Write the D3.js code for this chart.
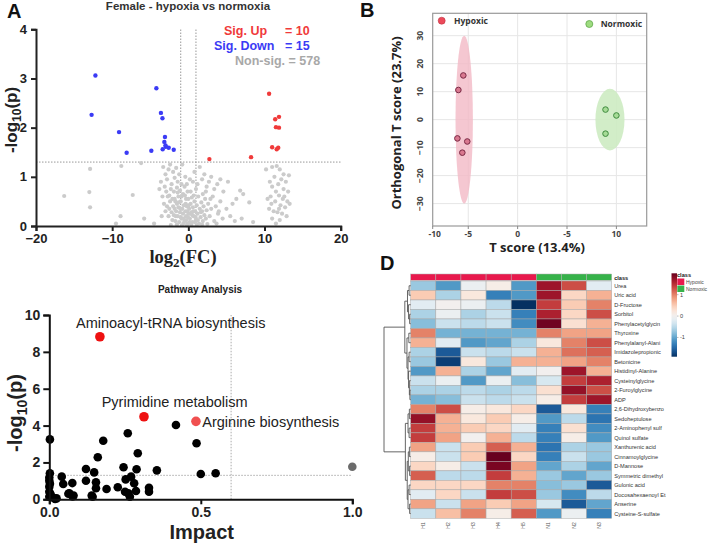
<!DOCTYPE html>
<html><head><meta charset="utf-8">
<script src="https://cdn.jsdelivr.net/npm/d3@7"></script>
<style>body{margin:0;background:#fff}svg{display:block}</style>
</head><body>
<svg id="c" width="708" height="553"></svg>
<script>
// ---------- Panel A: volcano ----------
const volcanoUp = [[2.76,1.36],[8.23,1.40],[10.6,2.69],[11.9,2.22],[11.4,2.17],[11.5,2.01],[11.9,2.0],[11.0,1.60],[11.8,1.59],[11.6,1.56]];
const volcanoDown = [[-12.2,3.06],[-12.7,2.26],[-9.1,1.91],[-8.1,1.49],[-4.86,1.53],[-4.2,2.80],[-3.6,2.30],[-3.4,2.19],[-3.07,1.81],[-3.15,1.71],[-3.37,1.56],[-2.97,1.61],[-2.58,1.59],[-1.92,1.55],[-3.0,1.64]];
const volcanoNon = [[-16.3,0.61],[-12.9,1.16],[-13.0,0.69],[-12.9,0.38],[-8.8,1.22],[-8.9,0.2],[-7.3,0.63],[-9.5,0.05],[-6.2,1.28],[-4.5,0.05],[-5.8,0.15],
[-3.3,1.2],[-3.0,1.05],[-2.8,0.95],[-2.6,1.15],[-2.4,1.25],[-2.2,0.85],[-2.0,1.1],[-1.8,0.98],[-1.6,1.18],[-1.4,0.9],[-1.2,1.05],[-3.6,0.9],[-3.8,0.75],[-3.4,0.6],[-3.1,0.8],[-2.9,0.7],[-2.5,0.62],[-2.3,0.75],[-2.1,0.55],[-1.9,0.7],[-1.7,0.5],[-1.5,0.78],[-1.3,0.6],[-1.1,0.72],[-0.9,0.85],[-0.7,0.65],[-0.5,0.8],[-0.3,0.55],[-0.1,0.7],
[-0.8,1.25],[-0.4,1.0],[0.2,0.95],[0.6,0.9],[0.8,1.1],[1.2,0.85],[1.5,1.2],[1.8,0.95],[2.1,1.05],[2.4,0.8],[2.7,0.9],[3.0,1.0],[3.4,0.75],[3.8,0.85],[4.2,0.95],[4.6,0.7],[5.2,0.9],
[-3.2,0.45],[-3.0,0.3],[-2.8,0.4],[-2.6,0.2],[-2.5,0.35],[-2.4,0.5],[-2.2,0.28],[-2.1,0.12],[-2.0,0.4],[-1.9,0.22],[-1.8,0.35],[-1.7,0.1],[-1.6,0.3],[-1.5,0.45],[-1.4,0.2],[-1.3,0.38],[-1.2,0.08],[-1.1,0.28],[-1.0,0.5],[-0.9,0.15],[-0.8,0.35],[-0.7,0.25],[-0.6,0.42],[-0.5,0.1],[-0.4,0.3],[-0.3,0.2],[-0.2,0.4],[-0.1,0.05],[0,0.25],[0.1,0.35],[0.2,0.15],[0.3,0.45],[0.4,0.28],[0.5,0.08],[0.6,0.38],[0.7,0.2],[0.8,0.5],[0.9,0.3],[1.0,0.12],[1.1,0.42],[1.2,0.25],[1.3,0.6],[1.4,0.05],[1.5,0.35],[1.6,0.18],[1.7,0.48],[1.8,0.3],[1.9,0.1],[2.0,0.4],[2.1,0.22],[2.2,0.55],[2.3,0.15],[2.4,0.32],[2.6,0.45],[2.8,0.2],[3.0,0.35],[3.2,0.6],[3.4,0.1],[3.6,0.4],[3.9,0.25],[4.2,0.5],[4.5,0.15],
[-2.3,0.02],[-1.5,0.03],[-0.8,0.02],[-0.2,0.01],[0.4,0.02],[1.1,0.02],[1.8,0.03],[2.5,0.04],[-1.0,0.18],[-0.3,0.12],[0.15,0.08],[0.55,0.22],[0.95,0.18],[-0.6,0.06],[-1.8,0.55],[-2.7,0.6],[0.0,0.55],[-0.9,0.6],[0.7,0.62],[1.9,0.65],[-1.4,0.68],[0.3,0.7],[1.0,0.75],[-0.2,0.85],[2.3,0.7],[2.9,0.55],[-3.5,0.2],[3.7,0.05],[4.0,0.3],[5.0,0.35],
[-0.65,0.15],[-0.35,0.45],[0.05,0.42],[0.35,0.05],[0.65,0.3],[-1.25,0.48],[-0.05,0.18],[0.85,0.08],[-0.45,0.62],[0.45,0.58],[-1.05,0.35],[1.25,0.12],[-1.65,0.2],[1.65,0.28],[-0.15,0.3],[0.25,0.25],
[5.8,0.45],[6.3,0.55],[6.1,0.1],[7.0,0.15],[7.2,0.65],[8.0,0.48],[8.5,0.08],[6.8,0.72],[5.5,0.2],
[10.2,1.15],[11.0,1.2],[11.6,1.22],[12.0,1.15],[12.5,1.05],[13.2,1.03],[11.3,1.0],[12.2,0.95],[12.8,0.9],[11.8,0.85],[11.0,0.8],[12.5,0.75],[13.1,0.7],[11.5,0.7],[10.8,0.6],[11.9,0.62],[12.4,0.55],[13.0,0.5],[10.9,0.45],[11.4,0.5],[12.1,0.42],[12.7,0.38],[13.3,0.45],[10.6,0.35],[11.2,0.3],[11.7,0.28],[12.3,0.25],[12.9,0.2],[11.0,0.15],[12.0,0.12],[11.5,0.05],[10.4,0.55],[11.9,0.35],[12.6,0.6],[10.7,0.9]];
const volcanoXTicks = [-20,-10,0,10,20];
const volcanoYTicks = [0,1,2,3,4];

// ---------- Panel B: OPLS-DA scores ----------
const hypoxicScores = [[-5.5,15.8],[-6.0,10.6],[-6.1,-6.7],[-5.1,-7.8],[-5.6,-11.8]];
const normoxicScores = [[8.9,3.6],[10.0,1.5],[8.9,-5.0]];
const hypoxicEllipse = {cx:-5.41, cy:0, rx:0.88, ry:30};
const normoxicEllipse = {cx:9.35, cy:0, rx:1.47, ry:11};
const scoreXTicks = [-10,-5,0,5,10];
const scoreXTickLabels = ["-10","-5","0","-5","10"];
const scoreYTicks = [30,20,10,0,-10,-20,-30];

// ---------- Panel C: pathway analysis ----------
const pathwayRed = [[0.167,8.82],[0.3125,4.48],[0.484,4.23]];
const pathwayRedLabels = ["Aminoacyl-tRNA biosynthesis","Pyrimidine metabolism","Arginine biosynthesis"];
const pathwayGrey = [[1.0,1.77]];
const pathwayBlack = [[0.002,3.25],[0.178,3.18],[0.16,2.28],[0.259,3.58],[0.292,2.5],[0.418,4.03],[0.486,3.04],[0.121,1.64],[0.148,1.46],[0.245,1.74],[0.288,1.63],[0.355,1.57],[0.5,1.37],[0.549,1.41],
[0.002,1.41],[0,1.18],[0,1.01],[0,0.68],[0,0.41],[0,0.14],[0.002,0.85],[0.004,0.28],[0.019,0.02],[0.041,1.23],[0.046,0.83],[0.076,0.88],[0.066,0.33],[0.077,0.16],[0.121,1.01],[0.154,0.92],[0.154,0.6],[0.143,0.14],[0.189,0.56],[0.226,0.65],[0.252,1.08],[0.27,1.23],[0.25,0.41],[0.266,0.14],[0.28,0.87],[0.286,0.45],[0.329,0.63],[0.329,0.41],[0.063,0.3],[0.08,0.2],[0.14,0.2],[0.024,0.05],[0.012,0.1],[0.261,0.32]];
const pathwayXTicks = [0,0.5,1.0];
const pathwayYTicks = [0,2,4,6,8,10];

// ---------- Panel D: heatmap ----------
const samples = ["H1","H2","H3","H4","H5","N1","N2","N3"];
const sampleClass = ["Hypoxic","Hypoxic","Hypoxic","Hypoxic","Hypoxic","Normoxic","Normoxic","Normoxic"];
const metabolites = ["Urea","Uric acid","D-Fructose","Sorbitol","Phenylacetylglycin","Thyroxine","Phenylalanyl-Alani","Imidazolepropionic","Betonicine","Histidinyl-Alanine","Cysteinylglycine","2-Furoylglycine","ADP","2,6-Dihydroxybenzo","Sedoheptulose","2-Aminophenyl sulf","Quinol sulfate","Xanthurenic acid","Cinnamoylglycine","D-Mannose","Symmetric dimethyl","Gulonic acid","Docosahexaenoyl Et","Anserine","Cysteine-S-sulfate"];
const heatValues = [
[-0.7,-1.1,-0.1,0.1,-1.1,1.7,1.3,-0.2],
[0.5,-0.6,0.2,-1.3,-1.1,1.7,0.4,0.7],
[-0.2,0,-0.1,-0.5,-1.9,1.4,0.5,1.0],
[-0.6,-0.1,-0.6,-0.4,-1.3,1.6,0.4,1.3],
[-0.8,-0.4,-0.5,-0.4,-1.2,1.95,0.3,0.7],
[1.0,-0.9,-0.9,-0.9,-0.9,1.0,0.8,0.8],
[0.7,-0.2,-1.1,-1.0,-0.6,0.2,1.0,1.3],
[-0.6,-1.6,-0.4,-0.5,-0.4,0.7,1.1,1.2],
[-0.7,-1.8,0.2,-0.7,0.7,0.7,0.8,1.0],
[-1.1,0.7,-0.6,-1.0,-0.2,0,1.7,0.7],
[-0.4,-0.1,-1.1,-0.1,-0.8,-0.3,1.4,1.6],
[-0.6,-0.6,-0.5,-0.6,-0.5,0.3,1.75,1.3],
[-0.9,-0.8,-0.4,-0.5,-0.4,0.1,1.4,1.7],
[1.0,1.3,0.1,0.2,0.4,-1.6,0.2,-1.3],
[1.75,0.7,0.2,0.5,0.1,-1.1,-0.5,-1.4],
[1.4,0.7,0.5,0.4,-0.2,-1.3,0.3,-1.2],
[1.4,0.8,0,0.7,-0.5,-1.3,0.1,-1.1],
[0.8,-0.4,0.5,1.2,0.7,-1.4,-0.6,-0.7],
[0.1,-0.4,0.5,2.0,0.4,-1.3,-0.4,-0.7],
[0.4,0.1,-0.4,1.9,0.8,-1.0,-0.6,-1.0],
[1.2,-0.5,-0.5,1.4,0.7,-0.7,-1.0,-0.7],
[0.4,0.4,0.4,1.0,1.0,-0.8,-0.7,-1.6],
[-0.2,0.4,-0.4,1.4,1.3,-0.7,-1.2,-0.5],
[0.8,-0.4,0.8,0.5,0.8,-0.3,-1.6,-1.0],
[-0.4,0.6,1.0,0.1,1.2,-1.1,-0.1,-1.3]];
const colorbarTicks = [1,0,-1];
const dendrogram = {h:1, c:[
  {h:0.22, c:[
    {h:0.12, c:[{h:0.06,c:[0,1]}, {h:0.08,c:[2,{h:0.04,c:[3,4]}]}]},
    {h:0.14, c:[{h:0.07,c:[5,6]}, {h:0.1,c:[{h:0.06,c:[7,8]}, {h:0.08,c:[9,{h:0.05,c:[10,{h:0.03,c:[11,12]}]}]}]}]}
  ]},
  {h:0.2, c:[
    {h:0.1, c:[{h:0.05,c:[13,14]}, {h:0.06,c:[15,16]}]},
    {h:0.13, c:[{h:0.09,c:[{h:0.05,c:[17,18]},{h:0.04,c:[19,20]}]}, {h:0.1,c:[{h:0.06,c:[21,22]},{h:0.04,c:[23,24]}]}]}
  ]}
]};

// =====================================================
const svg = d3.select("#c");
const SANS = "'Liberation Sans', Arial, sans-serif";
const OPEN = "'Open Sans', 'Liberation Sans', sans-serif";
svg.append("rect").attr("width",708).attr("height",553).attr("fill","#fff");

function panelLetter(t,x,y){svg.append("text").attr("x",x).attr("y",y).text(t)
  .attr("font-family",SANS).attr("font-weight","bold").attr("font-size",20).attr("fill","#111");}

// ---------- A ----------
{
  const g = svg.append("g");
  const x = d3.scaleLinear().domain([-20,20]).range([36,340.7]);
  const y = d3.scaleLinear().domain([0,4]).range([226,29.3]);
  g.append("line").attr("x1",36).attr("x2",340.7).attr("y1",y(1.3)).attr("y2",y(1.3))
    .attr("stroke","#999").attr("stroke-dasharray","1.5,1.5").attr("stroke-width",1);
  [-1,1].forEach(v=>g.append("line").attr("x1",x(v)).attr("x2",x(v)).attr("y1",y(0)).attr("y2",y(4))
    .attr("stroke","#999").attr("stroke-dasharray","1.5,1.5").attr("stroke-width",1));
  g.selectAll("circle.n").data(volcanoNon).join("circle").attr("cx",d=>x(d[0])).attr("cy",d=>y(d[1]))
    .attr("r",2.1).attr("fill","#cbcbcb");
  g.selectAll("circle.d").data(volcanoDown).join("circle").attr("cx",d=>x(d[0])).attr("cy",d=>y(d[1]))
    .attr("r",2.2).attr("fill","#3b3bf5");
  g.selectAll("circle.u").data(volcanoUp).join("circle").attr("cx",d=>x(d[0])).attr("cy",d=>y(d[1]))
    .attr("r",2.2).attr("fill","#f03a3a");
  const xa = g.append("g").attr("transform","translate(0,226)")
    .call(d3.axisBottom(x).tickValues(volcanoXTicks).tickSize(5).tickPadding(3).tickFormat(d3.format("d")));
  const ya = g.append("g").attr("transform","translate(36,0)")
    .call(d3.axisLeft(y).tickValues(volcanoYTicks).tickSize(5).tickFormat(d3.format("d")));
  [xa,ya].forEach(a=>{a.selectAll("path,line").attr("stroke","#222").attr("stroke-width",2);
    a.selectAll("text").attr("font-family",SANS).attr("font-weight","bold").attr("font-size",13).attr("fill","#222");});
  ya.selectAll("text").attr("dx","-1");
  svg.append("text").attr("x",188).attr("y",10).attr("text-anchor","middle").text("Female - hypoxia vs normoxia")
    .attr("font-family",SANS).attr("font-weight","bold").attr("font-size",11.5).attr("fill","#333");
  const yl = svg.append("text").attr("transform","translate(17,120) rotate(-90)").attr("text-anchor","middle")
    .attr("font-family",SANS).attr("font-weight","bold").attr("font-size",17).attr("fill","#222");
  yl.append("tspan").text("-log");
  yl.append("tspan").text("10").attr("font-size",12).attr("dy",4);
  yl.append("tspan").text("(p)").attr("dy",-4);
  const xl = svg.append("text").attr("x",183).attr("y",263).attr("text-anchor","middle")
    .attr("font-family","'Liberation Serif', 'Times New Roman', serif").attr("font-weight","bold").attr("font-size",18.5).attr("fill","#222");
  xl.append("tspan").text("log");
  xl.append("tspan").text("2").attr("font-size",13).attr("dy",4);
  xl.append("tspan").text("(FC)").attr("dy",-4);
  const lg = [["Sig. Up",224,"= 10",35,"#f03a3a"],["Sig. Down",214,"= 15",50,"#3b3bf5"]];
  lg.forEach(r=>{
    svg.append("text").attr("x",r[1]).attr("y",r[3]).text(r[0]).attr("fill",r[4])
      .attr("font-family",SANS).attr("font-weight","bold").attr("font-size",12.5);
    svg.append("text").attr("x",285).attr("y",r[3]).text(r[2]).attr("fill",r[4])
      .attr("font-family",SANS).attr("font-weight","bold").attr("font-size",12.5);
  });
  svg.append("text").attr("x",235).attr("y",65).text("Non-sig. = 578").attr("fill","#a8a8a8")
    .attr("font-family",SANS).attr("font-weight","bold").attr("font-size",12.5);
  panelLetter("A",7,18);
}

// ---------- B ----------
{
  const g = svg.append("g");
  const L=432.7,R=646.7,T=13.3,B=226;
  const x = d3.scaleLinear().domain([-8.6,13.07]).range([L,R]).clamp(true);
  const y = d3.scaleLinear().domain([-38,38]).range([B,T]);
  scoreYTicks.forEach(v=>g.append("line").attr("x1",L).attr("x2",R).attr("y1",y(v)).attr("y2",y(v)).attr("stroke","#e6e6e6"));
  scoreXTicks.slice(1).forEach(v=>g.append("line").attr("x1",x(v)).attr("x2",x(v)).attr("y1",T).attr("y2",B).attr("stroke","#e6e6e6"));
  g.append("rect").attr("x",L).attr("y",T).attr("width",R-L).attr("height",B-T).attr("fill","none").attr("stroke","#9a9a9a").attr("stroke-width",1.2);
  g.append("ellipse").attr("cx",x(hypoxicEllipse.cx)).attr("cy",y(hypoxicEllipse.cy))
    .attr("rx",x(hypoxicEllipse.cx+hypoxicEllipse.rx)-x(hypoxicEllipse.cx)).attr("ry",y(0)-y(hypoxicEllipse.ry))
    .attr("fill","#f3b9c6").attr("opacity",0.8);
  g.append("ellipse").attr("cx",x(normoxicEllipse.cx)).attr("cy",y(normoxicEllipse.cy))
    .attr("rx",x(normoxicEllipse.cx+normoxicEllipse.rx)-x(normoxicEllipse.cx)).attr("ry",y(0)-y(normoxicEllipse.ry))
    .attr("fill","#cdebc2").attr("opacity",0.9);
  g.selectAll("circle.h").data(hypoxicScores).join("circle").attr("cx",d=>x(d[0])).attr("cy",d=>y(d[1]))
    .attr("r",2.8).attr("fill","#d9788f").attr("stroke","#7a2a45").attr("stroke-width",1);
  g.selectAll("circle.nn").data(normoxicScores).join("circle").attr("cx",d=>x(d[0])).attr("cy",d=>y(d[1]))
    .attr("r",2.8).attr("fill","#a6db96").attr("stroke","#3d8a3d").attr("stroke-width",1);
  scoreXTicks.forEach((v,i)=>{
    g.append("line").attr("x1",x(v)).attr("x2",x(v)).attr("y1",B).attr("y2",B+3).attr("stroke","#888");
    g.append("text").attr("x",x(v)+(i===0?2:0)).attr("y",B+11).attr("text-anchor","middle").text(scoreXTickLabels[i])
      .attr("font-family",OPEN).attr("font-weight","bold").attr("font-size",8.5).attr("fill","#444");
  });
  scoreYTicks.forEach(v=>{
    g.append("text").attr("transform",`translate(423,${y(v)}) rotate(-90)`).attr("text-anchor","middle").text(d3.format("d")(v))
      .attr("font-family",OPEN).attr("font-weight","bold").attr("font-size",8.5).attr("fill","#444");
  });
  svg.append("text").attr("transform","translate(401,123) rotate(-90)").attr("text-anchor","middle")
    .text("Orthogonal T score (23.7%)").attr("font-family",OPEN).attr("font-weight","bold").attr("font-size",13).attr("fill","#222");
  svg.append("text").attr("x",537).attr("y",252).attr("text-anchor","middle")
    .text("T score (13.4%)").attr("font-family",OPEN).attr("font-weight","bold").attr("font-size",13).attr("fill","#222");
  svg.append("circle").attr("cx",441.7).attr("cy",20.7).attr("r",3.5).attr("fill","#ec4a5a").attr("stroke","#c03040").attr("stroke-width",0.6);
  svg.append("text").attr("x",454).attr("y",24).text("Hypoxic").attr("font-family",OPEN).attr("font-weight","bold").attr("font-size",8.5).attr("fill","#333");
  svg.append("circle").attr("cx",589.3).attr("cy",24).attr("r",3.5).attr("fill","#9edc80").attr("stroke","#5fa84a").attr("stroke-width",0.8);
  svg.append("text").attr("x",600.7).attr("y",27).text("Normoxic").attr("font-family",OPEN).attr("font-weight","bold").attr("font-size",8.5).attr("fill","#333");
  panelLetter("B",360,17);
}

// ---------- C ----------
{
  const g = svg.append("g");
  const x = d3.scaleLinear().domain([0,1]).range([49.3,352.3]);
  const y = d3.scaleLinear().domain([0,10]).range([499.3,315]);
  g.append("line").attr("x1",x(0.6)).attr("x2",x(0.6)).attr("y1",y(0)).attr("y2",y(10))
    .attr("stroke","#aaa").attr("stroke-dasharray","1.5,1.5");
  g.append("line").attr("x1",x(0)).attr("x2",x(1)).attr("y1",y(1.3)).attr("y2",y(1.3))
    .attr("stroke","#aaa").attr("stroke-dasharray","1.5,1.5");
  g.selectAll("circle.b").data(pathwayBlack).join("circle").attr("cx",d=>x(d[0])).attr("cy",d=>y(d[1]))
    .attr("r",4.3).attr("fill","#000");
  g.selectAll("circle.g").data(pathwayGrey).join("circle").attr("cx",d=>x(d[0])).attr("cy",d=>y(d[1]))
    .attr("r",4.3).attr("fill","#6b6b6b");
  g.selectAll("circle.r").data(pathwayRed).join("circle").attr("cx",d=>x(d[0])).attr("cy",d=>y(d[1]))
    .attr("r",4.8).attr("fill",(d,i)=>i===2?"#f05050":"#ee1111");
  const labPos = [[76,328.3],[101.7,406.5],[202.3,427]];
  pathwayRedLabels.forEach((t,i)=>svg.append("text").attr("x",labPos[i][0]).attr("y",labPos[i][1]).text(t)
    .attr("font-family",SANS).attr("font-size",14.5).attr("fill","#222"));
  const xa = g.append("g").attr("transform",`translate(0,${y(0)})`)
    .call(d3.axisBottom(x).tickValues(pathwayXTicks).tickSize(5).tickPadding(3).tickFormat(d3.format(".1f")));
  const ya = g.append("g").attr("transform",`translate(${x(0)},0)`)
    .call(d3.axisLeft(y).tickValues(pathwayYTicks).tickSize(6).tickFormat(d3.format("d")));
  [xa,ya].forEach(a=>{a.selectAll("path,line").attr("stroke","#111").attr("stroke-width",2);
    a.selectAll("text").attr("font-family",SANS).attr("font-weight","bold").attr("font-size",14).attr("fill","#222");});
  svg.append("text").attr("x",200).attr("y",293).attr("text-anchor","middle").text("Pathway Analysis")
    .attr("font-family",SANS).attr("font-weight","bold").attr("font-size",10).attr("fill","#222");
  svg.append("text").attr("x",201.7).attr("y",539).attr("text-anchor","middle").text("Impact")
    .attr("font-family",SANS).attr("font-weight","bold").attr("font-size",20).attr("fill","#222");
  const yl = svg.append("text").attr("transform","translate(22,413) rotate(-90)").attr("text-anchor","middle")
    .attr("font-family",SANS).attr("font-weight","bold").attr("font-size",20).attr("fill","#222");
  yl.append("tspan").text("-log");
  yl.append("tspan").text("10").attr("font-size",14).attr("dy",5);
  yl.append("tspan").text("(p)").attr("dy",-5);
}

// ---------- D ----------
{
  const g = svg.append("g");
  const HL=410.7, HR=611.7, HT=281, HB=518.3;
  const x = d3.scaleBand().domain(samples).range([HL,HR]);
  const y = d3.scaleBand().domain(d3.range(metabolites.length)).range([HT,HB]);
  const color = d3.scaleDiverging().domain([-1.9,0,2.0]).interpolator(t=>d3.interpolateRdBu(1-t));
  const classColor = d3.scaleOrdinal().domain(["Hypoxic","Normoxic"]).range(["#e8194d","#36b24a"]);
  g.selectAll("rect.cls").data(samples).join("rect").attr("x",d=>x(d)).attr("y",274).attr("width",x.bandwidth()).attr("height",6.3)
    .attr("fill",(d,i)=>classColor(sampleClass[i])).attr("stroke","#b0b0b0").attr("stroke-width",0.5);
  const cells = [];
  heatValues.forEach((row,i)=>row.forEach((v,j)=>cells.push({i,j,v})));
  g.selectAll("rect.cell").data(cells).join("rect").attr("x",d=>x(samples[d.j])).attr("y",d=>y(d.i))
    .attr("width",x.bandwidth()).attr("height",y.bandwidth()).attr("fill",d=>color(d.v))
    .attr("stroke","#a8a8a8").attr("stroke-width",0.5);
  g.selectAll("text.row").data(metabolites).join("text").attr("x",HR+2.5).attr("y",(d,i)=>y(i)+y.bandwidth()/2+2)
    .text(d=>d).attr("font-family",SANS).attr("font-size",5.6).attr("fill","#333");
  g.append("text").attr("x",HR+2.5).attr("y",279.5).text("class").attr("font-family",SANS).attr("font-weight","bold").attr("font-size",5.6).attr("fill","#222");
  g.selectAll("text.col").data(samples).join("text")
    .attr("transform",d=>`translate(${x(d)+x.bandwidth()/2+1.5},${HB+4}) rotate(-90)`).attr("text-anchor","end")
    .text(d=>d).attr("font-family",SANS).attr("font-size",5).attr("fill","#555");
  const dx = d3.scaleLinear().domain([0,1]).range([HL,384]);
  const rowC = i=>y(i)+y.bandwidth()/2;
  function draw(node){
    if(typeof node==="number") return {x:HL, y:rowC(node)};
    const kids = node.c.map(draw);
    const nx = dx(node.h);
    const ys = kids.map(k=>k.y);
    g.append("line").attr("x1",nx).attr("x2",nx).attr("y1",d3.min(ys)).attr("y2",d3.max(ys)).attr("stroke","#555").attr("stroke-width",0.9);
    kids.forEach(k=>g.append("line").attr("x1",nx).attr("x2",k.x).attr("y1",k.y).attr("y2",k.y).attr("stroke","#555").attr("stroke-width",0.9));
    return {x:nx, y:d3.mean(ys)};
  }
  draw(dendrogram);
  const cb = d3.scaleLinear().domain([-1.9,2.0]).range([356.7,273.3]);
  const defs = svg.append("defs");
  const grad = defs.append("linearGradient").attr("id","cbg").attr("x1",0).attr("y1",1).attr("x2",0).attr("y2",0);
  d3.range(0,1.0001,0.05).forEach(t=>grad.append("stop").attr("offset",t).attr("stop-color",color(-1.9+t*3.9)));
  g.append("rect").attr("x",671.5).attr("y",273.3).attr("width",5.5).attr("height",356.7-273.3).attr("fill","url(#cbg)");
  colorbarTicks.forEach(v=>{
    g.append("line").attr("x1",677).attr("x2",678.5).attr("y1",cb(v)).attr("y2",cb(v)).attr("stroke","#777").attr("stroke-width",0.5);
    g.append("text").attr("x",680).attr("y",cb(v)+2).text(v).attr("font-family",SANS).attr("font-size",5.6).attr("fill","#444");
  });
  g.append("text").attr("x",677).attr("y",276.5).text("class").attr("font-family",SANS).attr("font-weight","bold").attr("font-size",5.6).attr("fill","#222");
  ["Hypoxic","Normoxic"].forEach((c,i)=>{
    g.append("rect").attr("x",677.3).attr("y",278.5+i*7).attr("width",7).attr("height",6.5).attr("fill",classColor(c));
    g.append("text").attr("x",686).attr("y",283.5+i*7).text(c).attr("font-family",SANS).attr("font-size",5).attr("fill","#444");
  });
  panelLetter("D",380,270);
}
</script>
</body></html>
